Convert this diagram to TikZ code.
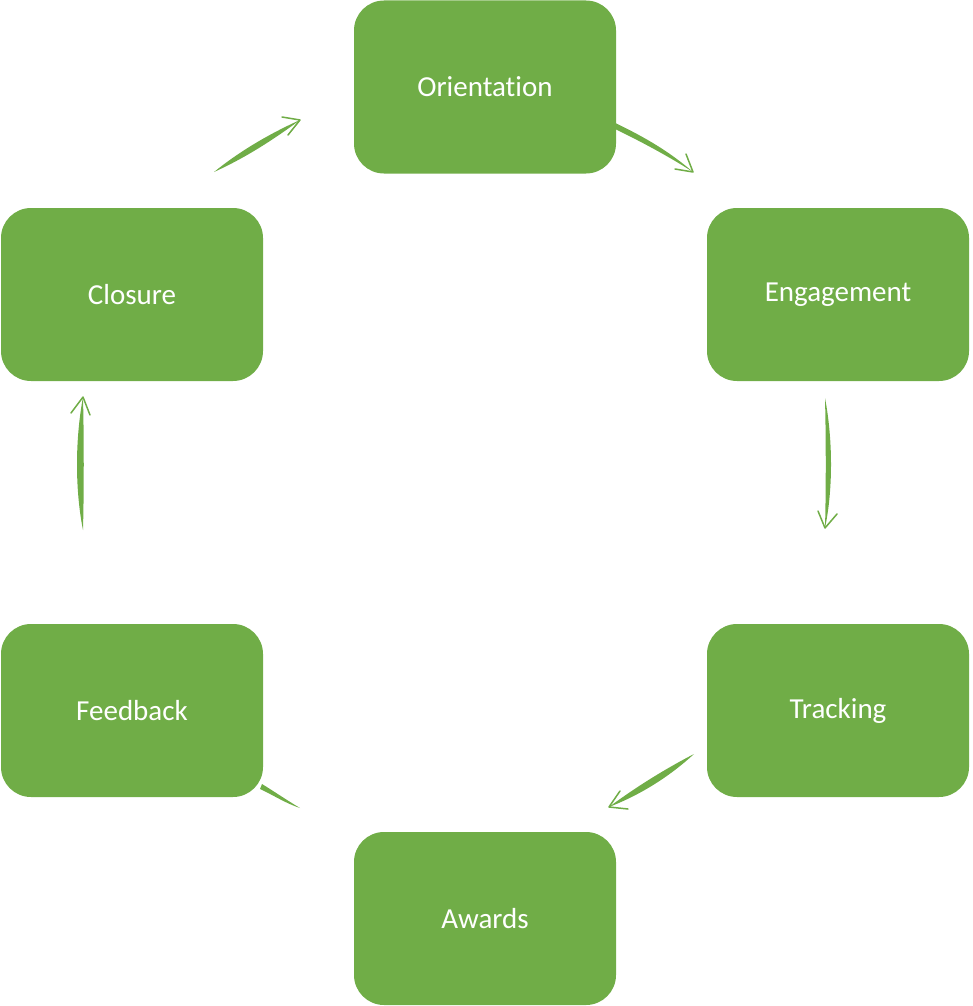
\documentclass[tikz,border=0pt]{standalone}
\usepackage{fontspec}
\setmainfont[Ligatures={NoCommon}]{Carlito}
\definecolor{sgreen}{RGB}{112,173,71}
\tikzset{
  stepbox/.style={fill=sgreen, draw=none, rounded corners=30pt, minimum width=262pt, minimum height=173pt,
    inner sep=0pt, text=white, font=\fontsize{29}{35}\selectfont},
  shaft/.style={fill=sgreen, draw=none},
  chev/.style={draw=sgreen, line width=1.5pt, line cap=round, line join=round}
}
\begin{document}
\begin{tikzpicture}[x=1pt, y=-1pt]
\useasboundingbox (0,0) rectangle (972,1006);
% arrow coordinates
\coordinate (a1) at (611,121); \coordinate (t1) at (693,172);
\coordinate (a2) at (825,398); \coordinate (t2) at (825,528);
\coordinate (a3) at (694,754); \coordinate (t3) at (609,807);
\coordinate (a4) at (300,808); \coordinate (t4) at (256,780);
\coordinate (a5) at (83,530);  \coordinate (t5) at (83,397);
\coordinate (a6) at (214,172); \coordinate (t6) at (300,120);
% shafts
\fill[shaft] (a1) .. controls (645,137) and (670,152) .. (t1) .. controls (668,156) and (640,141) .. (611,127) -- cycle;
\fill[shaft] (a2) .. controls (833,440) and (833,490) .. (t2) .. controls (826,490) and (826,440) .. (a2) -- cycle;
\fill[shaft] (a3) .. controls (665,769) and (636,787) .. (t3) .. controls (640,795) and (669,777) .. (a3) -- cycle;
\fill[shaft] (a4) .. controls (285,799) and (275,792) .. (262,784) -- (260,789) .. controls (275,796) and (285,803) .. (a4) -- cycle;
\fill[shaft] (a5) .. controls (75,490) and (75,440) .. (t5) .. controls (84,440) and (84,490) .. (a5) -- cycle;
\fill[shaft] (a6) .. controls (240,151) and (269,134) .. (t6) .. controls (273,140) and (245,158) .. (a6) -- cycle;
% heads
\draw[chev] (686,154) -- (t1) -- (675,169);
\draw[chev] (818,511) -- (t2) -- (837,514);
\draw[chev] (620,791) -- (t3) -- (628,809);
\draw[chev] (71,413) -- (t5) -- (90,415);
\draw[chev] (282,117) -- (t6) -- (288,135);
% boxes
\node[stepbox] (ori) at (485,87) {Orientation};
\node[stepbox] (eng) at (838,294.5) {Engagement};
\node[stepbox] (tra) at (838,710.5) {Tracking};
\node[stepbox] (awa) at (485,918.5) {Awards};
\node[stepbox] (fee) at (132,710.5) {Feedback};
\node[stepbox] (clo) at (132,294.5) {Closure};
\end{tikzpicture}
\end{document}
